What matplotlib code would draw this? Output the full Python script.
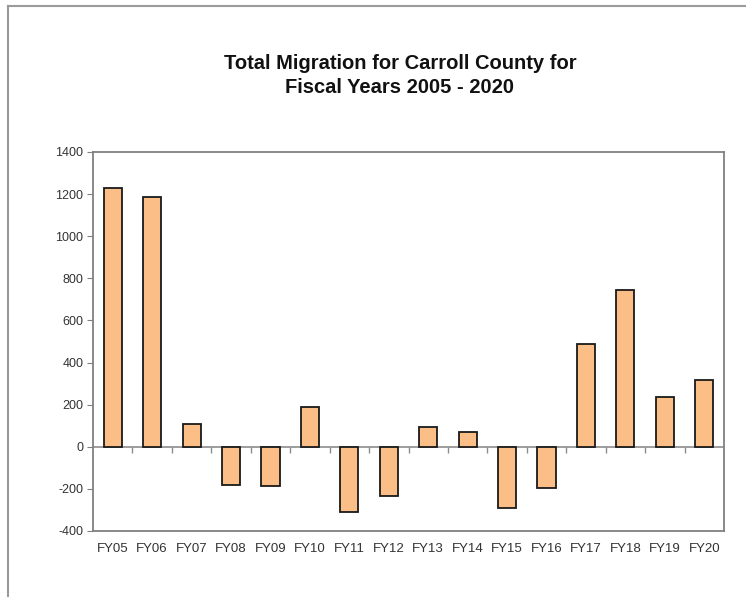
import numpy as np
import matplotlib.pyplot as plt
from matplotlib.lines import Line2D

years = ['FY05', 'FY06', 'FY07', 'FY08', 'FY09', 'FY10', 'FY11', 'FY12',
         'FY13', 'FY14', 'FY15', 'FY16', 'FY17', 'FY18', 'FY19', 'FY20']
migration = [1230, 1185, 110, -181, -186, 188, -309, -234,
             95, 69, -290, -198, 486, 743, 238, 318]
y_ticks = [-400, -200, 0, 200, 400, 600, 800, 1000, 1200, 1400]

plt.rcParams['font.family'] = ['Liberation Sans', 'DejaVu Sans']

fig = plt.figure(figsize=(7.46, 5.97), dpi=100)
ax = fig.add_axes([0.1247, 0.1106, 0.8458, 0.6348])

x = np.arange(len(years))
ax.bar(x, migration, width=0.46, color='#FBBE86', edgecolor='#1a1a1a', linewidth=1.3, zorder=3)

ax.set_xlim(-0.5, len(years) - 0.5)
ax.set_ylim(-400, 1400)
ax.set_yticks(y_ticks)
ax.set_yticklabels([str(v) for v in y_ticks], fontsize=9, color='#333333')
ax.tick_params(axis='y', length=4, color='#808080', pad=3)

ax.set_xticks(x)
ax.set_xticklabels(years, fontsize=9.5, color='#333333')
ax.tick_params(axis='x', length=0, pad=9)

# zero line with category separator ticks
ax.axhline(0, color='#8c8c8c', linewidth=1.2, zorder=2)
bounds = np.arange(len(years) + 1) - 0.5
ax.plot(bounds[1:-1], np.zeros(len(bounds) - 2), linestyle='none',
        marker=3, markersize=4, color='#8c8c8c', zorder=2)

for s in ax.spines.values():
    s.set_color('#808080')
    s.set_linewidth(1.3)

fig.text(0.536, 0.874, 'Total Migration for Carroll County for\nFiscal Years 2005 - 2020',
         ha='center', va='center', fontsize=14.5, fontweight='bold',
         linespacing=1.35, color='#111111')

# outer chart border (left and top)
fig.add_artist(Line2D([0.0107, 0.0107], [0.0, 0.990], color='#9a9a9a', linewidth=1.5,
                      transform=fig.transFigure))
fig.add_artist(Line2D([0.0107, 1.0], [0.990, 0.990], color='#9a9a9a', linewidth=1.5,
                      transform=fig.transFigure))

fig.savefig('out.png', dpi=100)
